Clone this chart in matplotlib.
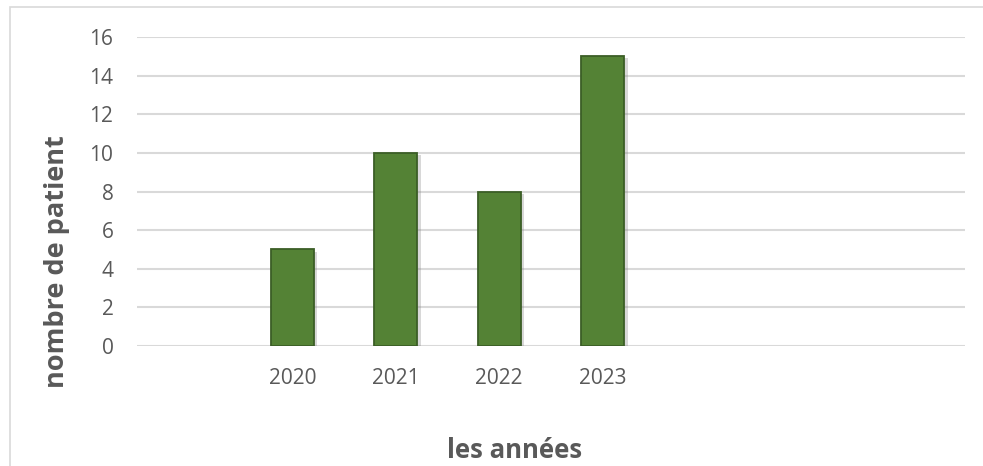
import matplotlib
matplotlib.use("Agg")
import matplotlib.pyplot as plt
import matplotlib.patheffects as pe
from matplotlib.patches import Rectangle

# catégories (Excel garde des colonnes vides autour des années)
categories = ["", "2020", "2021", "2022", "2023", "", "", ""]
patients = [0, 5, 10, 8, 15, 0, 0, 0]
has_value = [False, True, True, True, True, False, False, False]
yticks = [0, 2, 4, 6, 8, 10, 12, 14, 16]

plt.rcParams["font.family"] = ["Open Sans", "DejaVu Sans"]

fig = plt.figure(figsize=(9.83, 4.66), dpi=100)
fig.patches.append(Rectangle((10 / 983, -0.05), 1.0, 1 - 7 / 466 + 0.05,
                             transform=fig.transFigure, fill=False,
                             edgecolor="#D9D9D9", linewidth=1.2))

ax = fig.add_axes([137 / 983, 1 - 346 / 466, 828 / 983, 309 / 466])

xs = [i + 0.5 for i in range(len(categories))]
vals = [v for v, h in zip(patients, has_value) if h]
xv = [x for x, h in zip(xs, has_value) if h]
bars = ax.bar(xv, vals, width=0.415, color="#548235", edgecolor="#3B5E26",
              linewidth=1.3, zorder=3)
for b in bars:
    b.set_path_effects([pe.SimplePatchShadow(offset=(2.5, -1.5), shadow_rgbFace="#7F7F7F", alpha=0.3),
                        pe.Normal()])

ax.set_xlim(0, len(categories))
ax.set_ylim(0, 16)
ax.set_yticks(yticks)
ax.set_xticks(xs)
ax.set_xticklabels(categories)
ax.grid(axis="y", color="#D9D9D9", linewidth=1.5, zorder=0)
ax.set_axisbelow(True)
for s in ax.spines.values():
    s.set_visible(False)
ax.tick_params(axis="both", length=0, labelsize=15, colors="#595959")
ax.tick_params(axis="y", pad=17)
ax.tick_params(axis="x", pad=16)

ax.set_ylabel("nombre de patient", fontsize=19.5, fontweight="bold",
              color="#595959")
ax.yaxis.set_label_coords((70 - 137) / 828, (346 - 262) / 309)
ax.set_xlabel("les années", fontsize=18.5, fontweight="bold",
              color="#595959")
ax.xaxis.set_label_coords((515 - 137) / 828, -(437 - 346) / 309)

fig.savefig("out.png", dpi=100)
